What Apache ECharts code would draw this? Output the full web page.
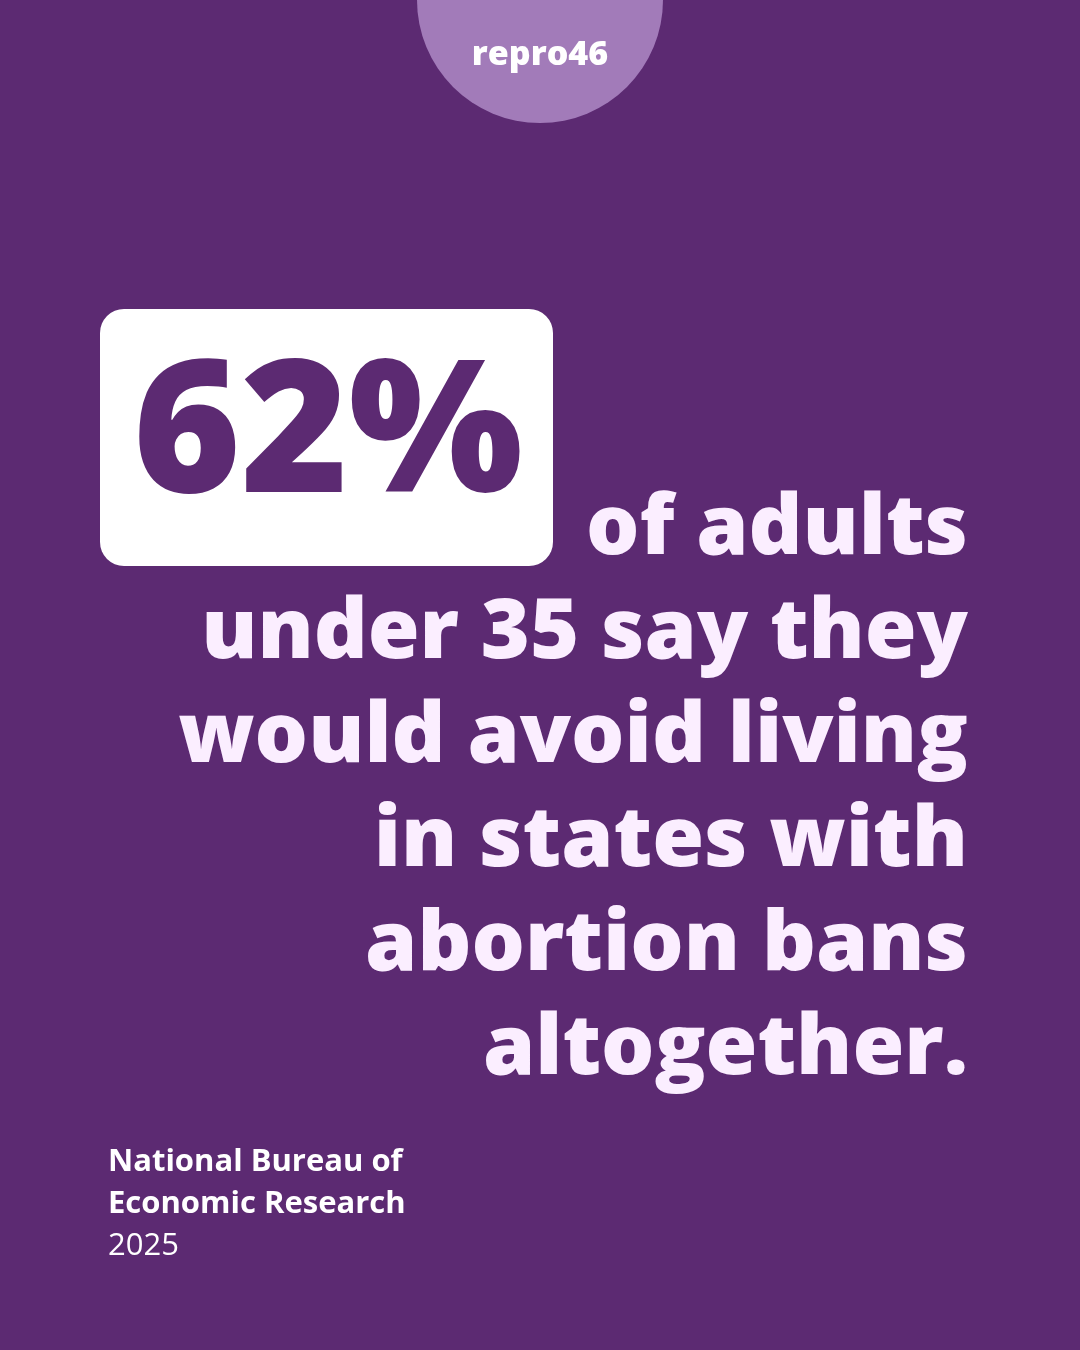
<!DOCTYPE html>
<html>
<head>
<meta charset="utf-8">
<script src="https://cdn.jsdelivr.net/npm/echarts@6/dist/echarts.min.js"></script>
<style>
  html, body { margin: 0; padding: 0; background: #5c2a72; }
  #chart { width: 1080px; height: 1350px; }
</style>
</head>
<body>
<div id="chart"></div>
<script>
// figures shown on the card
const statValue = 62
const statLines = ['of adults', 'under 35 say they', 'would avoid living', 'in states with', 'abortion bans', 'altogether.']
const sourceLines = ['National Bureau of', 'Economic Research']
const sourceYear = '2025'
const brand = 'repro46'

const font = '"Open Sans", "Noto Sans", sans-serif'
const chart = echarts.init(document.getElementById('chart'))

const elements = [
  { type: 'circle', shape: { cx: 540, cy: 0, r: 123 }, style: { fill: '#a27bb9' } },
  {
    type: 'text', x: 540, y: 55,
    style: { text: brand, fill: '#ffffff', font: '800 34px ' + font, align: 'center', verticalAlign: 'middle' }
  },
  { type: 'rect', shape: { x: 100, y: 309, width: 453, height: 257, r: 24 }, style: { fill: '#ffffff' } },
  {
    type: 'text', x: 328, y: 440,
    style: { text: statValue + '%', fill: '#5c2a72', font: '800 184px ' + font, align: 'center', verticalAlign: 'middle' }
  }
]

statLines.forEach((line, i) => {
  elements.push({
    type: 'text', x: 968, y: 530 + i * 104,
    style: { text: line, fill: '#fbeeff', font: '800 84px ' + font, align: 'right', verticalAlign: 'middle' }
  })
})

sourceLines.forEach((line, i) => {
  elements.push({
    type: 'text', x: 108, y: 1162 + i * 42,
    style: { text: line, fill: '#ffffff', font: 'bold 31px ' + font, verticalAlign: 'middle' }
  })
})
elements.push({
  type: 'text', x: 108, y: 1246,
  style: { text: sourceYear, fill: '#ffffff', font: '31px ' + font, verticalAlign: 'middle' }
})

chart.setOption({
  backgroundColor: '#5c2a72',
  graphic: { elements: elements }
})
</script>
</body>
</html>
